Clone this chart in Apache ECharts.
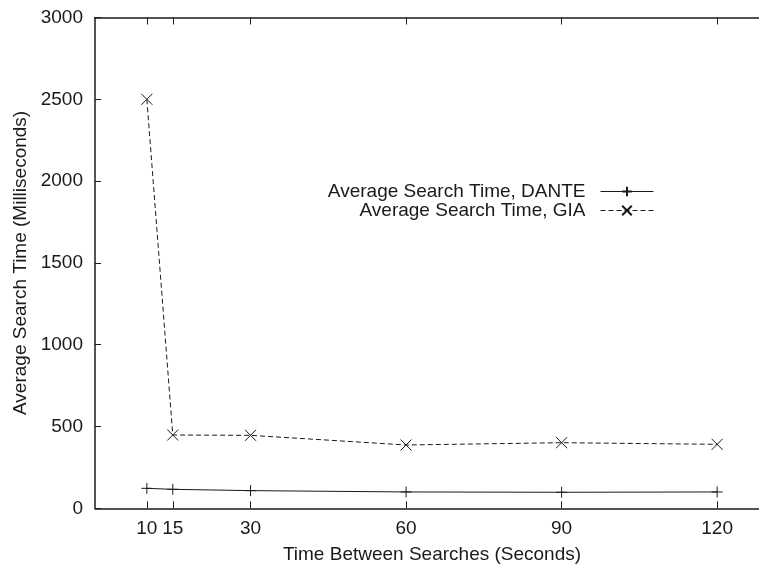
<!DOCTYPE html>
<html>
<head>
<meta charset="utf-8">
<script src="https://cdn.jsdelivr.net/npm/echarts@6/dist/echarts.min.js"></script>
<style>
  html, body { margin: 0; padding: 0; background: #fff; }
  #chart { width: 759px; height: 568px; }
</style>
</head>
<body>
<div id="chart"></div>
<script>
// Interval between searches (seconds)
const intervals = [10, 15, 30, 60, 90, 120];
// Average search time (ms)
const danteTimes = [122, 116, 108, 100, 98, 100];
const giaTimes = [2500, 448, 446, 387, 401, 391];
// Tick marks
const xTicks = [10, 15, 30, 60, 90, 120];
const yTickStep = 500;

const seriesNames = ['Average Search Time, DANTE', 'Average Search Time, GIA'];

const plusPath = 'path://M0,5H10M5,0V10';
const crossPath = 'path://M0,0L10,10M10,0L0,10';

const FONT = 'Liberation Sans, Arial, Helvetica, sans-serif';
const ink = '#1a1a1a';

const pairs = (xs, ys) => xs.map((x, i) => [x, ys[i]]);

const chart = echarts.init(document.getElementById('chart'), null, { renderer: 'canvas' });

const baseX = {
  type: 'value',
  min: 0,
  max: 130,
  splitLine: { show: false },
  axisLine: { show: true, onZero: false, lineStyle: { color: ink, width: 1.5 } },
  axisTick: { show: true, inside: true, length: 7, customValues: xTicks, lineStyle: { color: ink, width: 1 } }
};

chart.setOption({
  animation: false,
  backgroundColor: '#fff',
  textStyle: { fontFamily: FONT },
  grid: { left: 95, top: 17.5, width: 674, height: 490.8, outerBoundsMode: 'none', containLabel: false },
  legend: {
    data: seriesNames,
    orient: 'vertical',
    align: 'right',
    right: 100,
    top: 177,
    itemWidth: 53,
    itemHeight: 12,
    itemGap: 0,
    lineStyle: { width: 1 },
    textStyle: { fontSize: 19, color: ink, fontFamily: FONT, padding: [0, 10, 0, 0] },
    selectedMode: false
  },
  xAxis: [
    Object.assign({}, baseX, {
      position: 'bottom',
      name: 'Time Between Searches (Seconds)',
      nameLocation: 'middle',
      nameGap: 37,
      nameTextStyle: { fontSize: 19, color: ink, fontFamily: FONT },
      axisLabel: { show: true, customValues: xTicks, fontSize: 19, color: ink, margin: 11, fontFamily: FONT }
    }),
    Object.assign({}, baseX, {
      position: 'top',
      axisLabel: { show: false }
    })
  ],
  yAxis: [
    {
      type: 'value',
      min: 0,
      max: 3000,
      interval: yTickStep,
      position: 'left',
      name: 'Average Search Time (Milliseconds)',
      nameLocation: 'middle',
      nameGap: 65,
      nameTextStyle: { fontSize: 19, color: ink, fontFamily: FONT },
      splitLine: { show: false },
      axisLine: { show: true, onZero: false, lineStyle: { color: ink, width: 1.5 } },
      axisTick: { show: true, inside: true, length: 6, lineStyle: { color: ink, width: 1 } },
      axisLabel: { fontSize: 19, color: ink, margin: 12, fontFamily: FONT, formatter: (v) => String(v) }
    }
  ],
  series: [
    {
      name: seriesNames[0],
      type: 'line',
      data: pairs(intervals, danteTimes),
      symbol: plusPath,
      symbolSize: 11,
      showAllSymbol: true,
      lineStyle: { color: ink, width: 1, type: 'solid' },
      itemStyle: { color: 'transparent', borderColor: ink, borderWidth: 1 }
    },
    {
      name: seriesNames[1],
      type: 'line',
      data: pairs(intervals, giaTimes),
      symbol: crossPath,
      symbolSize: 11,
      showAllSymbol: true,
      lineStyle: { color: ink, width: 1, type: [5, 3] },
      itemStyle: { color: 'transparent', borderColor: ink, borderWidth: 1 }
    }
  ]
});
</script>
</body>
</html>
